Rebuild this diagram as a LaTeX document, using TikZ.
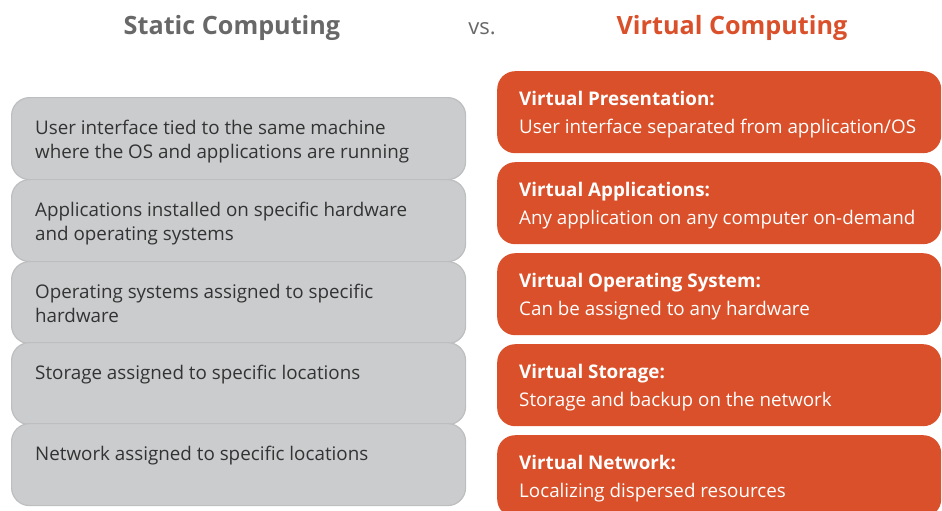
\documentclass[tikz,border=0pt]{standalone}
\usepackage{fontspec}
\setmainfont{Open Sans}
\usetikzlibrary{positioning}

\definecolor{virtorange}{HTML}{D9502A}
\definecolor{statfill}{HTML}{CBCCCE}
\definecolor{statedge}{HTML}{BDBEC0}
\definecolor{headgray}{HTML}{686868}
\definecolor{statink}{HTML}{333333}

\tikzset{
    statbox/.style={draw=statedge, fill=statfill, line width=1.2pt, rounded corners=18pt,
        anchor=north west, inner sep=0pt, minimum width=454pt, minimum height=82pt},
    virtbox/.style={fill=virtorange, rounded corners=18pt,
        anchor=north west, inner sep=0pt, minimum width=444pt, minimum height=82pt},
    stattext/.style={anchor=north west, align=left, inner sep=0pt, text=statink,
        font=\fontsize{18.8}{24}\selectfont},
    virttext/.style={anchor=north west, align=left, inner sep=0pt, text=white,
        font=\fontsize{18.8}{28}\selectfont},
    headline/.style={font=\fontsize{25.2}{28}\selectfont\bfseries}
}

\begin{document}
\begin{tikzpicture}[x=1pt, y=-1pt]
    \useasboundingbox (0, 0) rectangle (942, 511);
    \clip (0, 0) rectangle (942, 511);

    % headings
    \node [headline, text=headgray] (stathead) at (232, 28) {Static Computing};
    \node [font=\fontsize{22}{26}\selectfont, text=headgray] (vs) at (482, 29) {vs.};
    \node [headline, text=virtorange] (virthead) at (732, 28) {Virtual Computing};

    % static side
    \node [statbox] (stat1) at (11, 97) {};
    \node [statbox] (stat2) at (11, 179) {};
    \node [statbox] (stat3) at (11, 261) {};
    \node [statbox] (stat4) at (11, 342) {};
    \node [statbox] (stat5) at (11, 423) {};

    \node [stattext] (stat1txt) at ([shift={(24, 23)}]stat1.north west)
        {User interface tied to the same machine\\where the OS and applications are running};
    \node [stattext] (stat2txt) at ([shift={(24, 23)}]stat2.north west)
        {Applications installed on specific hardware\\and operating systems};
    \node [stattext] (stat3txt) at ([shift={(24, 23)}]stat3.north west)
        {Operating systems assigned to specific\\hardware};
    \node [stattext] (stat4txt) at ([shift={(24, 23)}]stat4.north west)
        {Storage assigned to specific locations};
    \node [stattext] (stat5txt) at ([shift={(24, 23)}]stat5.north west)
        {Network assigned to specific locations};

    % virtual side
    \node [virtbox] (virt1) at (497, 71) {};
    \node [virtbox] (virt2) at (497, 162) {};
    \node [virtbox] (virt3) at (497, 253) {};
    \node [virtbox] (virt4) at (497, 344) {};
    \node [virtbox] (virt5) at (497, 435) {};

    \node [virttext] (virt1txt) at ([shift={(22, 20.5)}]virt1.north west)
        {\textbf{Virtual Presentation:}\\User interface separated from application/OS};
    \node [virttext] (virt2txt) at ([shift={(22, 20.5)}]virt2.north west)
        {\textbf{Virtual Applications:}\\Any application on any computer on-demand};
    \node [virttext] (virt3txt) at ([shift={(22, 20.5)}]virt3.north west)
        {\textbf{Virtual Operating System:}\\Can be assigned to any hardware};
    \node [virttext] (virt4txt) at ([shift={(22, 20.5)}]virt4.north west)
        {\textbf{Virtual Storage:}\\Storage and backup on the network};
    \node [virttext] (virt5txt) at ([shift={(22, 20.5)}]virt5.north west)
        {\textbf{Virtual Network:}\\Localizing dispersed resources};
\end{tikzpicture}
\end{document}
